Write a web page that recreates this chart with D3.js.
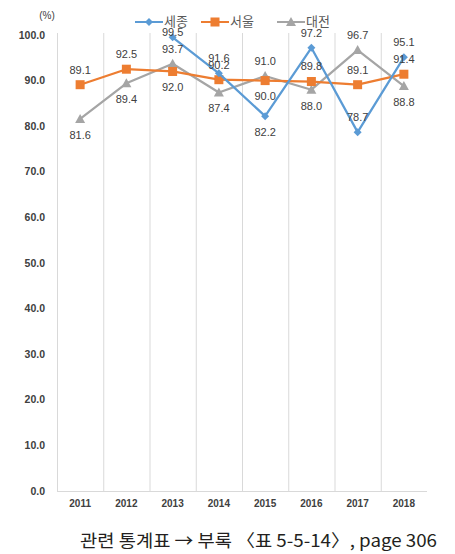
<!DOCTYPE html>
<html><head><meta charset="utf-8">
<script src="https://cdn.jsdelivr.net/npm/d3@7"></script>
<style>body{margin:0;background:#fff;} svg{display:block;}</style>
</head><body>
<svg id="c" width="455" height="554"></svg>
<script>
const years = ["2011","2012","2013","2014","2015","2016","2017","2018"];
const sejong = [null, null, 99.5, 91.6, 82.2, 97.2, 78.7, 95.1];
const seoul = [89.1, 92.5, 92.0, 90.2, 90.0, 89.8, 89.1, 91.4];
const daejeon = [81.6, 89.4, 93.7, 87.4, 91.0, 88.0, 96.7, 88.8];
// label placement per point: 1 = above, -1 = below
const sejongPos = [0, 0, 1, 1, -1, 1, 1, 1];
const seoulPos = [1, 1, -1, 1, -1, 1, 1, 1];
const daejeonPos = [-1, -1, 1, -1, 1, -1, 1, -1];
const yTicks = [0,10,20,30,40,50,60,70,80,90,100];
const seriesNames = ["세종","서울","대전"];
const colors = ["#5B9BD5","#ED7D31","#A5A5A5"];
const caption = "관련 통계표 → 부록 〈표 5-5-14〉, page 306";

const svg = d3.select("#c");
const m = {l:57, r:427, t:35, b:491};
const x = d3.scaleBand().domain(years).range([m.l, m.r]);
const y = d3.scaleLinear().domain([0,100]).range([m.b, m.t]);
const font = "'Noto Sans CJK KR', 'Noto Sans', sans-serif";

// vertical gridlines at category boundaries
const bounds = years.map(d => x(d));
svg.append("g").selectAll("line").data(bounds).join("line")
  .attr("x1", d=>d+0.5).attr("x2", d=>d+0.5).attr("y1", m.t-2).attr("y2", m.b)
  .attr("stroke", "#d9d9d9").attr("stroke-width", 1);
svg.append("line").attr("x1", m.l).attr("x2", m.r).attr("y1", m.b+0.5).attr("y2", m.b+0.5)
  .attr("stroke", "#d9d9d9").attr("stroke-width", 1);

// y tick labels
svg.append("g").selectAll("text").data(yTicks).join("text")
  .attr("x", 45).attr("y", d => y(d)).attr("dy", "0.35em")
  .attr("text-anchor", "end").attr("font-family", "'Liberation Sans', Arial, sans-serif")
  .attr("font-size", 10.5).attr("font-weight", "bold").attr("fill", "#404040")
  .text(d => d.toFixed(1));
svg.append("text").attr("x", 47).attr("y", 19).attr("text-anchor", "middle")
  .attr("font-family", "'Liberation Sans', Arial, sans-serif").attr("font-size", 10).attr("fill", "#404040").text("(%)");

// x labels
svg.append("g").selectAll("text").data(years).join("text")
  .attr("x", d => x(d) + x.bandwidth()/2).attr("y", 507)
  .attr("text-anchor", "middle").attr("font-family", "'Liberation Sans', Arial, sans-serif")
  .attr("font-size", 10).attr("font-weight", "bold").attr("fill", "#404040").text(d => d);

const cx = i => x(years[i]) + x.bandwidth()/2;
const allData = [sejong, seoul, daejeon];
const allPos = [sejongPos, seoulPos, daejeonPos];

function marker(g, k, px, py) {
  if (k === 0) {
    g.append("path").attr("d", `M${px},${py-4}L${px+4},${py}L${px},${py+4}L${px-4},${py}Z`).attr("fill", colors[0]);
  } else if (k === 1) {
    g.append("rect").attr("x", px-4.5).attr("y", py-4.5).attr("width", 9).attr("height", 9).attr("fill", colors[1]);
  } else {
    g.append("path").attr("d", `M${px},${py-5}L${px+5},${py+4}L${px-5},${py+4}Z`).attr("fill", colors[2]);
  }
}

// draw lines: gray, orange, blue order (blue on top)
[2,1,0].forEach(k => {
  const data = allData[k];
  const line = d3.line().defined(d => d != null).x((d,i) => cx(i)).y(d => y(d));
  const g = svg.append("g");
  g.append("path").datum(data).attr("d", line).attr("fill", "none")
    .attr("stroke", colors[k]).attr("stroke-width", 2.25).attr("stroke-linejoin", "round");
  data.forEach((d,i) => { if (d != null) marker(g, k, cx(i), y(d)); });
});

// data labels (kept inside the plot area top like the spreadsheet does)
[2,1,0].forEach(k => {
  allData[k].forEach((d,i) => {
    if (d == null) return;
    const p = allPos[k][i];
    const ly = Math.max(m.t - 3, y(d) + (p > 0 ? -15 : 16));
    svg.append("text").attr("x", cx(i)).attr("y", ly).attr("dy", "0.35em")
      .attr("text-anchor", "middle").attr("font-family", "'Liberation Sans', Arial, sans-serif")
      .attr("font-size", 11).attr("fill", "#404040").text(d.toFixed(1));
  });
});

// legend
const legX = [135, 201, 277];
seriesNames.forEach((n,k) => {
  const g = svg.append("g");
  g.append("line").attr("x1", legX[k]).attr("x2", legX[k]+28).attr("y1", 22).attr("y2", 22)
    .attr("stroke", colors[k]).attr("stroke-width", 2);
  marker(g, k, legX[k]+14, 22);
  g.append("text").attr("x", legX[k]+29).attr("y", 21).attr("dy", "0.35em")
    .attr("font-family", font).attr("font-size", 13).attr("fill", "#595959").text(n);
});

// caption
svg.append("text").attr("x", 80).attr("y", 541).attr("dy", "0.35em")
  .attr("textLength", 357).attr("lengthAdjust", "spacingAndGlyphs")
  .attr("font-family", font).attr("font-size", 17.5).attr("fill", "#231f20").text(caption);
</script>
</body></html>
